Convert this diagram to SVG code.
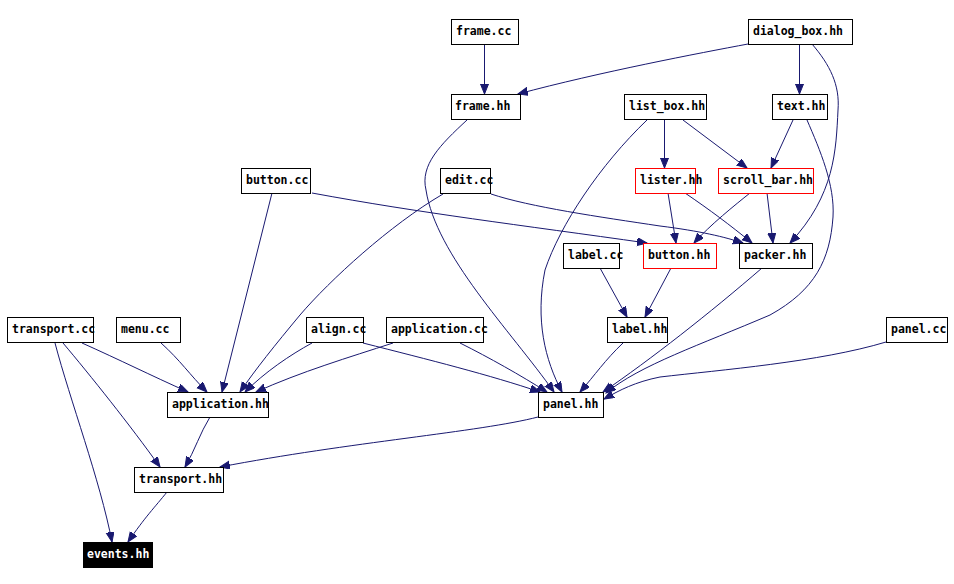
<svg xmlns="http://www.w3.org/2000/svg" width="954" height="584" viewBox="0 0 954 584">
<style>
.n rect{fill:#fff;stroke:#000;stroke-width:1}
.n.r rect{stroke:#f00}
.n.b rect{fill:#000}
.n text{font-family:"DejaVu Sans Mono","Liberation Mono",monospace;font-weight:bold;font-size:11.5px;fill:#000}
.n.b text{fill:#fff}
#edges path{fill:none;stroke:#191970;stroke-width:1;marker-end:url(#ah)}
</style>
<defs>
<marker id="ah" markerUnits="userSpaceOnUse" markerWidth="11" markerHeight="9" refX="10" refY="4" orient="auto">
<path d="M0,0 L10,4 L0,8 z" fill="#191970" stroke="#191970" stroke-width="1"/>
</marker>
</defs>
<rect width="954" height="584" fill="#fff"/>
<g id="edges">
<path d="M484.5,44 L484.5,94"/>
<path d="M748,44 C700,53 600,72 518,94"/>
<path d="M799.5,44 L799.5,94"/>
<path d="M812,44 C830,65 840,85 838,110 C836,150 835,195 790,243"/>
<path d="M467,120 C440,145 420,165 426,190 C436,255 510,330 554,392"/>
<path d="M664.5,119 L664.5,168"/>
<path d="M683,120 L747,168"/>
<path d="M647,120 C600,165 560,225 545,270 C535,320 545,360 562,392"/>
<path d="M793,120 L771,168"/>
<path d="M807,120 C820,150 835,185 833,217 C830,260 815,290 770,315 C700,345 640,365 606,393"/>
<path d="M312,193 C420,213 520,225 647,243"/>
<path d="M272,193 L222,392"/>
<path d="M443,194 C390,225 330,280 300,315 C275,345 255,370 240,392"/>
<path d="M491,194 C530,207 600,217 660,226 C700,231 725,237 743,243"/>
<path d="M668,193 L676,243"/>
<path d="M685,193 C710,210 730,225 752,243"/>
<path d="M750,193 C735,205 710,225 694,243"/>
<path d="M767,193 L773,243"/>
<path d="M600,268 L627,317"/>
<path d="M671,268 L645,317"/>
<path d="M762,268 C710,313 650,360 603,392"/>
<path d="M82,343 C120,360 150,375 188,392"/>
<path d="M63,343 C90,375 130,425 160,467"/>
<path d="M55,343 C70,400 100,480 112,542"/>
<path d="M161,343 C180,360 190,375 207,392"/>
<path d="M312,343 C290,355 265,372 245,392"/>
<path d="M363,343 C430,360 490,375 540,392"/>
<path d="M393,343 C350,357 300,372 256,392"/>
<path d="M460,343 C490,358 520,375 547,392"/>
<path d="M623,343 C605,360 595,375 580,392"/>
<path d="M886,342 C820,362 720,370 660,377 C635,382 620,390 604,399"/>
<path d="M210,417 C200,433 195,450 185,467"/>
<path d="M538,417 C480,432 350,442 220,467"/>
<path d="M167,492 C155,507 145,517 128,542"/>
</g>
<g id="frame_cc" class="n"><rect x="451.5" y="19.5" width="67" height="25"/><text x="456" y="35">frame.cc</text></g>
<g id="dialog_box_hh" class="n"><rect x="748.5" y="19.5" width="104" height="25"/><text x="753" y="35">dialog_box.hh</text></g>
<g id="frame_hh" class="n"><rect x="451.5" y="94.5" width="69" height="25"/><text x="455" y="110">frame.hh</text></g>
<g id="list_box_hh" class="n"><rect x="624.5" y="94.5" width="82" height="25"/><text x="629" y="110">list_box.hh</text></g>
<g id="text_hh" class="n"><rect x="772.5" y="94.5" width="55" height="25"/><text x="777" y="110">text.hh</text></g>
<g id="button_cc" class="n"><rect x="241.5" y="168.5" width="69" height="25"/><text x="246" y="184">button.cc</text></g>
<g id="edit_cc" class="n"><rect x="440.5" y="168.5" width="50" height="25"/><text x="445" y="184">edit.cc</text></g>
<g id="lister_hh" class="n r"><rect x="635.5" y="168.5" width="60" height="25"/><text x="640" y="184">lister.hh</text></g>
<g id="scroll_bar_hh" class="n r"><rect x="718.5" y="168.5" width="95" height="25"/><text x="723" y="184">scroll_bar.hh</text></g>
<g id="label_cc" class="n"><rect x="563.5" y="243.5" width="56" height="25"/><text x="568" y="259">label.cc</text></g>
<g id="button_hh" class="n r"><rect x="643.5" y="243.5" width="73" height="25"/><text x="648" y="259">button.hh</text></g>
<g id="packer_hh" class="n"><rect x="739.5" y="243.5" width="73" height="25"/><text x="744" y="259">packer.hh</text></g>
<g id="transport_cc" class="n"><rect x="7.5" y="317.5" width="86" height="25"/><text x="12" y="333">transport.cc</text></g>
<g id="menu_cc" class="n"><rect x="116.5" y="317.5" width="64" height="25"/><text x="121" y="333">menu.cc</text></g>
<g id="align_cc" class="n"><rect x="306.5" y="317.5" width="57" height="25"/><text x="311" y="333">align.cc</text></g>
<g id="application_cc" class="n"><rect x="386.5" y="317.5" width="97" height="25"/><text x="391" y="333">application.cc</text></g>
<g id="label_hh" class="n"><rect x="607.5" y="317.5" width="60" height="25"/><text x="612" y="333">label.hh</text></g>
<g id="panel_cc" class="n"><rect x="886.5" y="317.5" width="61" height="25"/><text x="891" y="333">panel.cc</text></g>
<g id="application_hh" class="n"><rect x="167.5" y="392.5" width="101" height="25"/><text x="172" y="408">application.hh</text></g>
<g id="panel_hh" class="n"><rect x="538.5" y="392.5" width="65" height="25"/><text x="543" y="408">panel.hh</text></g>
<g id="transport_hh" class="n"><rect x="134.5" y="467.5" width="89" height="25"/><text x="139" y="483">transport.hh</text></g>
<g id="events_hh" class="n b"><rect x="83.5" y="542.5" width="69" height="25"/><text x="87" y="558">events.hh</text></g>
</svg>
